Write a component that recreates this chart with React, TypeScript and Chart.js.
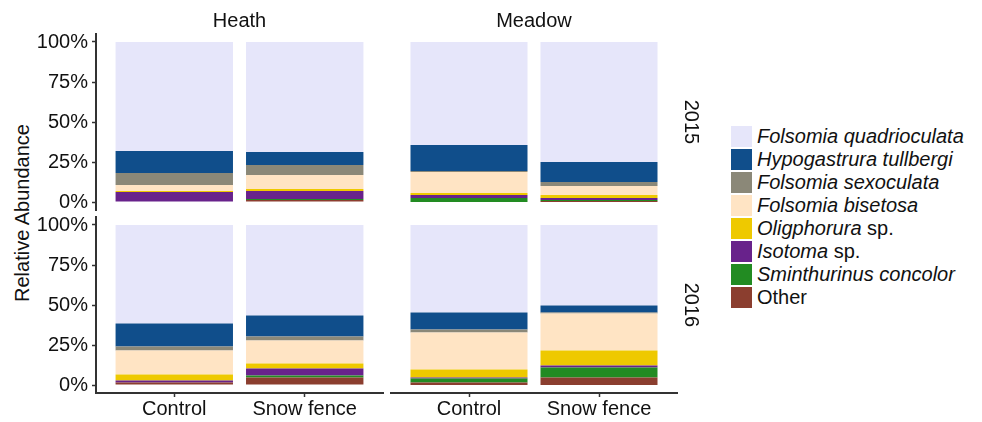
import { useEffect, useRef } from "react";
import { Chart, registerables } from "chart.js";

Chart.register(...registerables);

// Facets
const sites = ["Heath", "Meadow"];
const years = ["2015", "2016"];
const treatments = ["Control", "Snow fence"];
const yTickValues = [0, 25, 50, 75, 100];

// Values (% relative abundance), order of entries:
// Heath2015 Control, Heath2015 Snow fence, Meadow2015 Control, Meadow2015 Snow fence,
// Heath2016 Control, Heath2016 Snow fence, Meadow2016 Control, Meadow2016 Snow fence
const other = [0, 1.2, 0, 0.6, 1.6, 4.7, 1.6, 4.7];
const sminthurinus = [0, 0.6, 2.5, 0.6, 0, 1.2, 2.5, 6.2];
const isotoma = [6.2, 5.0, 1.9, 1.3, 1.2, 4.4, 0.6, 1.3];
const oligphorura = [0.7, 1.3, 1.2, 1.9, 3.8, 3.1, 5.0, 9.4];
const bisetosa = [3.7, 8.8, 13.1, 5.6, 15.0, 14.4, 23.1, 23.1];
const sexoculata = [7.5, 6.2, 0.7, 2.5, 2.5, 2.5, 1.9, 0.6];
const tullbergi = [13.8, 8.2, 16.2, 12.5, 14.3, 13.1, 10.6, 4.4];
const quadrioculata = [68.1, 68.7, 64.4, 75.0, 61.6, 56.6, 54.7, 50.3];

// Stack order bottom -> top
const speciesNames = [
  "Other",
  "Sminthurinus concolor",
  "Isotoma sp.",
  "Oligphorura sp.",
  "Folsomia bisetosa",
  "Folsomia sexoculata",
  "Hypogastrura tullbergi",
  "Folsomia quadrioculata",
];
const speciesValues = [other, sminthurinus, isotoma, oligphorura, bisetosa, sexoculata, tullbergi, quadrioculata];
const speciesColors = ["#8B3E2F", "#228B22", "#68228B", "#EEC900", "#FFE4C4", "#8B8878", "#104E8B", "#E6E6FA"];

// Legend: [italic part, plain part]
const legendLabels: [string, string][] = [
  ["Folsomia quadrioculata", ""],
  ["Hypogastrura tullbergi", ""],
  ["Folsomia sexoculata", ""],
  ["Folsomia bisetosa", ""],
  ["Oligphorura", " sp."],
  ["Isotoma", " sp."],
  ["Sminthurinus concolor", ""],
  ["", "Other"],
];
const legendColors = ["#E6E6FA", "#104E8B", "#8B8878", "#FFE4C4", "#EEC900", "#68228B", "#228B22", "#8B3E2F"];

const FONT = "'Liberation Sans', Arial, Helvetica, sans-serif";
const AXIS = "#333333";

// Panel geometry (plot area)
const colL = [96, 391];
const colR = [383, 677];
const rowT = [34, 217];
const rowB = [210, 393];
const PAD = 20;

function Panel({ row, col }: { row: number; col: number }) {
  const ref = useRef<HTMLCanvasElement | null>(null);
  const isLeft = col === 0;
  const isBottom = row === 1;
  const canvasLeft = isLeft ? 0 : colL[col] - PAD;
  const canvasTop = rowT[row] - PAD;
  const canvasWidth = colR[col] + PAD - canvasLeft;
  const canvasHeight = isBottom ? 422 - canvasTop : rowB[row] - rowT[row] + 2 * PAD;
  const yAxisW = colL[0];
  const xAxisH = 422 - rowB[1];

  useEffect(() => {
    if (!ref.current) return;
    const p = row * 2 + col;
    const chart = new Chart(ref.current, {
      type: "bar",
      data: {
        datasets: speciesNames.map((name, i) => ({
          label: name,
          data: treatments.map((_, t) => ({ x: t + 1, y: speciesValues[i][p * 2 + t] })),
          backgroundColor: speciesColors[i],
          borderWidth: 0,
          barPercentage: 0.9,
          categoryPercentage: 1,
        })),
      },
      options: {
        animation: false,
        responsive: false,
        maintainAspectRatio: false,
        events: [],
        layout: {
          padding: {
            left: isLeft ? 0 : PAD,
            right: PAD,
            top: PAD,
            bottom: isBottom ? 0 : PAD,
          },
        },
        plugins: { legend: { display: false }, tooltip: { enabled: false } },
        scales: {
          x: {
            type: "linear",
            stacked: true,
            offset: false,
            min: 0.4,
            max: 2.6,
            display: isBottom,
            afterBuildTicks: (s: any) => {
              s.ticks = treatments.map((_, i) => ({ value: i + 1 }));
            },
            afterFit: (s: any) => {
              if (isBottom) s.height = xAxisH;
            },
            ticks: {
              callback: (v: any) => treatments[Number(v) - 1],
              font: { family: FONT, size: 20 },
              color: "#111",
              padding: 0,
              autoSkip: false,
              maxRotation: 0,
              minRotation: 0,
            },
            grid: {
              display: true,
              offset: false,
              drawOnChartArea: false,
              drawTicks: true,
              tickLength: 4,
              tickColor: AXIS,
              tickWidth: 1.5,
            },
            border: { display: true, color: AXIS, width: 2 },
          },
          y: {
            type: "linear",
            stacked: true,
            min: -5,
            max: 105,
            display: isLeft,
            afterBuildTicks: (s: any) => {
              s.ticks = yTickValues.map((v) => ({ value: v }));
            },
            afterFit: (s: any) => {
              if (isLeft) s.width = yAxisW;
            },
            ticks: {
              callback: (v: any) => v + "%",
              font: { family: FONT, size: 20 },
              color: "#111",
              padding: 4,
            },
            grid: {
              display: true,
              drawOnChartArea: false,
              drawTicks: true,
              tickLength: 4,
              tickColor: AXIS,
              tickWidth: 1.5,
            },
            border: { display: true, color: AXIS, width: 2 },
          },
        },
      },
    } as any);
    return () => chart.destroy();
  }, [row, col]);

  return (
    <canvas
      ref={ref}
      width={canvasWidth}
      height={canvasHeight}
      style={{
        position: "absolute",
        left: canvasLeft,
        top: canvasTop,
        width: canvasWidth,
        height: canvasHeight,
      }}
    />
  );
}

export default function App() {
  const textBase: any = {
    position: "absolute",
    fontFamily: FONT,
    fontSize: 20,
    lineHeight: "24px",
    color: "#111",
    whiteSpace: "nowrap",
  };
  return (
    <div
      style={{
        position: "absolute",
        left: 0,
        top: 0,
        width: 982,
        height: 422,
        background: "#fff",
        overflow: "hidden",
        fontFamily: FONT,
      }}
    >
      <div
        style={{
          ...textBase,
          left: 22,
          top: 213,
          transform: "translate(-50%, -50%) rotate(-90deg)",
        }}
      >
        Relative Abundance
      </div>

      {[0, 1].map((r) => [0, 1].map((c) => <Panel key={`${r}-${c}`} row={r} col={c} />))}

      {sites.map((s, c) => (
        <div
          key={s}
          style={{
            ...textBase,
            left: (colL[c] + colR[c]) / 2,
            top: 20,
            transform: "translate(-50%, -50%)",
          }}
        >
          {s}
        </div>
      ))}

      {years.map((y, r) => (
        <div
          key={y}
          style={{
            ...textBase,
            left: 692,
            top: (rowT[r] + rowB[r]) / 2,
            transform: "translate(-50%, -50%) rotate(90deg)",
          }}
        >
          {y}
        </div>
      ))}

      {legendLabels.map(([it, plain], i) => (
        <div
          key={i}
          style={{
            position: "absolute",
            left: 731,
            top: 125 + 23 * i,
            height: 23,
            display: "flex",
            alignItems: "center",
            fontFamily: FONT,
            fontSize: 20,
            lineHeight: "23px",
            color: "#111",
            whiteSpace: "nowrap",
          }}
        >
          <div style={{ width: 21, height: 21, background: legendColors[i], marginRight: 5 }} />
          <span>
            {it && <i>{it}</i>}
            {plain}
          </span>
        </div>
      ))}
    </div>
  );
}
